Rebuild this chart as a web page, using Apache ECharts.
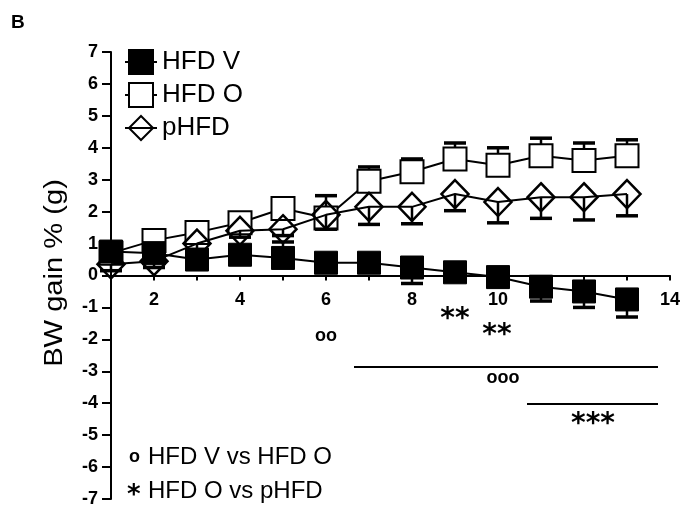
<html>
<head>
<meta charset="UTF-8" />
<script src="https://cdn.jsdelivr.net/npm/echarts@6/dist/echarts.min.js"></script>
</head>
<style type="text/css">
    *{
        margin: 0;
        padding: 0;
    }
    #chart{
        width: 682px;
        height: 508px;
        background: #fff;
    }
</style>
<body>
<div id="chart"></div>
<script type="text/javascript">
    var weeks = [1, 2, 3, 4, 5, 6, 7, 8, 9, 10, 11, 12, 13];
    var hfdV = [0.75, 0.7, 0.5, 0.65, 0.55, 0.4, 0.4, 0.25, 0.1, -0.05, -0.35, -0.5, -0.75];
    var hfdO = [0.7, 1.1, 1.35, 1.65, 2.1, 1.8, 2.95, 3.25, 3.65, 3.45, 3.75, 3.6, 3.75];
    var pHFD = [0.35, 0.45, 1.0, 1.4, 1.45, 1.9, 2.15, 2.15, 2.55, 2.3, 2.45, 2.45, 2.55];
    // SEM, drawn one side only as in the figure
    var hfdVErrUp = [0, 0, 0, 0, 0.5, 0, 0, 0, 0, 0, 0, 0, 0];
    var hfdVErrDown = [0.2, 0.2, 0.2, 0.2, 0.2, 0.2, 0.2, 0.5, 0.25, 0.3, 0.45, 0.5, 0.55];
    var hfdOErrUp = [0.2, 0.2, 0.2, 0.2, 0.2, 0.7, 0.45, 0.4, 0.5, 0.55, 0.55, 0.55, 0.5];
    var pHFDErrDown = [0.2, 0.2, 0.2, 0.2, 0.2, 0.45, 0.55, 0.53, 0.52, 0.65, 0.66, 0.71, 0.68];
    var yTicks = [-7, -6, -5, -4, -3, -2, -1, 0, 1, 2, 3, 4, 5, 6, 7];
    var xLabels = [2, 4, 6, 8, 10, 14];
    var zeros = [0, 0, 0, 0, 0, 0, 0, 0, 0, 0, 0, 0, 0];

    var gridTop = 52, gridBottom = 9, chartH = 508;
    // x axis sits on y = 0, lift it from the grid bottom
    var plotH = chartH - gridTop - gridBottom;
    var zeroLift = plotH * (0 - yTicks[0]) / (yTicks[yTicks.length - 1] - yTicks[0]);

    function pairs(ys){
        var out = [];
        for(var i = 0; i < weeks.length; i++){
            out.push([weeks[i], ys[i]]);
        }
        return out;
    }
    function errData(ys, up, down){
        var out = [];
        for(var i = 0; i < weeks.length; i++){
            out.push([weeks[i], ys[i] - down[i], ys[i] + up[i], ys[i]]);
        }
        return out;
    }
    function renderErr(params, api){
        var x = api.value(0), lo = api.value(1), hi = api.value(2), y = api.value(3);
        var children = [];
        var ends = [];
        if(hi > y) ends.push(hi);
        if(lo < y) ends.push(lo);
        for(var k = 0; k < ends.length; k++){
            var p0 = api.coord([x, y]);
            var p1 = api.coord([x, ends[k]]);
            children.push({type: 'line', shape: {x1: p0[0], y1: p0[1], x2: p1[0], y2: p1[1]},
                style: {stroke: '#000', lineWidth: 2.5}});
            children.push({type: 'line', shape: {x1: p1[0] - 11, y1: p1[1], x2: p1[0] + 11, y2: p1[1]},
                style: {stroke: '#000', lineWidth: 3.5}});
        }
        return {type: 'group', children: children};
    }

    var myChart = echarts.init(document.getElementById('chart'));
    var option = {
        animation: false,
        backgroundColor: '#fff',
        textStyle: {fontFamily: 'Liberation Sans, Arial, sans-serif', color: '#000'},
        grid: {left: 111, right: 12, top: gridTop, bottom: gridBottom, containLabel: false, outerBoundsMode: 'none'},
        legend: {
            data: ['HFD V', 'HFD O', 'pHFD'],
            orient: 'vertical',
            left: 124,
            top: 49,
            padding: 0,
            itemWidth: 32,
            itemHeight: 30,
            itemGap: 7,
            textStyle: {fontSize: 26, color: '#000', fontFamily: 'Liberation Sans, Arial, sans-serif'}
        },
        xAxis: {
            type: 'value',
            min: 1,
            max: 14,
            interval: 1,
            offset: -zeroLift,
            splitLine: {show: false},
            axisLine: {onZero: false, lineStyle: {color: '#000', width: 2}},
            axisTick: {length: 5, lineStyle: {color: '#000', width: 2}},
            axisLabel: {
                margin: 16,
                fontSize: 18,
                fontWeight: 'bold',
                color: '#000',
                formatter: function(v){ return xLabels.indexOf(v) >= 0 ? String(v) : ''; }
            }
        },
        yAxis: {
            type: 'value',
            min: yTicks[0],
            max: yTicks[yTicks.length - 1],
            interval: 1,
            splitLine: {show: false},
            axisLine: {lineStyle: {color: '#000', width: 2}},
            axisTick: {length: 9, lineStyle: {color: '#000', width: 2}},
            axisLabel: {margin: 13, fontSize: 18, fontWeight: 'bold', color: '#000'}
        },
        series: [
            {
                name: 'HFD O err', type: 'custom', renderItem: renderErr,
                data: errData(hfdO, hfdOErrUp, zeros), z: 2
            },
            {
                name: 'HFD O', type: 'line', data: pairs(hfdO), symbol: 'rect', symbolSize: 23,
                lineStyle: {color: '#000', width: 2},
                itemStyle: {color: '#fff', borderColor: '#000', borderWidth: 2}, z: 3
            },
            {
                name: 'pHFD err', type: 'custom', renderItem: renderErr,
                data: errData(pHFD, zeros, pHFDErrDown), z: 4
            },
            {
                name: 'pHFD', type: 'line', data: pairs(pHFD), symbol: 'diamond', symbolSize: [27, 28],
                lineStyle: {color: '#000', width: 2},
                itemStyle: {color: 'rgba(255,255,255,0)', borderColor: '#000', borderWidth: 2.5}, z: 5
            },
            {
                name: 'HFD V err', type: 'custom', renderItem: renderErr,
                data: errData(hfdV, hfdVErrUp, hfdVErrDown), z: 6
            },
            {
                name: 'HFD V', type: 'line', data: pairs(hfdV), symbol: 'rect', symbolSize: 23,
                lineStyle: {color: '#000', width: 2},
                itemStyle: {color: '#000', borderColor: '#000', borderWidth: 1}, z: 7
            }
        ],
        graphic: [
            {type: 'text', left: 11, top: 13, style: {text: 'B', fontSize: 19, fontWeight: 'bold', fill: '#000', fontFamily: 'Liberation Sans'}},
            {type: 'text', x: 55, y: 273, rotation: Math.PI / 2, scaleX: 1.12,
                style: {text: 'BW gain % (g)', fontSize: 26, fill: '#000', align: 'center', verticalAlign: 'middle', fontFamily: 'Liberation Sans'}},
            {type: 'text', x: 326, y: 336, style: {text: 'oo', fontSize: 18, fontWeight: 'bold', fill: '#000', align: 'center', verticalAlign: 'middle', fontFamily: 'Liberation Sans'}},
            {type: 'text', x: 455, y: 320, style: {text: '**', fontSize: 28, fontWeight: 'bold', fill: '#000', align: 'center', verticalAlign: 'middle', fontFamily: 'DejaVu Sans'}},
            {type: 'text', x: 497, y: 336, style: {text: '**', fontSize: 28, fontWeight: 'bold', fill: '#000', align: 'center', verticalAlign: 'middle', fontFamily: 'DejaVu Sans'}},
            {type: 'line', shape: {x1: 354, y1: 367, x2: 658, y2: 367}, style: {stroke: '#000', lineWidth: 2}},
            {type: 'text', x: 503, y: 378, style: {text: 'ooo', fontSize: 18, fontWeight: 'bold', fill: '#000', align: 'center', verticalAlign: 'middle', fontFamily: 'Liberation Sans'}},
            {type: 'line', shape: {x1: 527, y1: 404, x2: 658, y2: 404}, style: {stroke: '#000', lineWidth: 2}},
            {type: 'text', x: 593, y: 425, style: {text: '***', fontSize: 28, fontWeight: 'bold', fill: '#000', align: 'center', verticalAlign: 'middle', fontFamily: 'DejaVu Sans'}},
            {type: 'text', x: 129, y: 457, style: {text: 'o', fontSize: 18, fontWeight: 'bold', fill: '#000', verticalAlign: 'middle', fontFamily: 'Liberation Sans'}},
            {type: 'text', x: 148, y: 457, style: {text: 'HFD V vs HFD O', fontSize: 24, fill: '#000', verticalAlign: 'middle', fontFamily: 'Liberation Sans'}},
            {type: 'text', x: 127, y: 496, style: {text: '*', fontSize: 26, fontWeight: 'bold', fill: '#000', verticalAlign: 'middle', fontFamily: 'DejaVu Sans'}},
            {type: 'text', x: 148, y: 491, style: {text: 'HFD O vs pHFD', fontSize: 24, fill: '#000', verticalAlign: 'middle', fontFamily: 'Liberation Sans'}}
        ]
    };
    myChart.setOption(option);
</script>
</body>
</html>
